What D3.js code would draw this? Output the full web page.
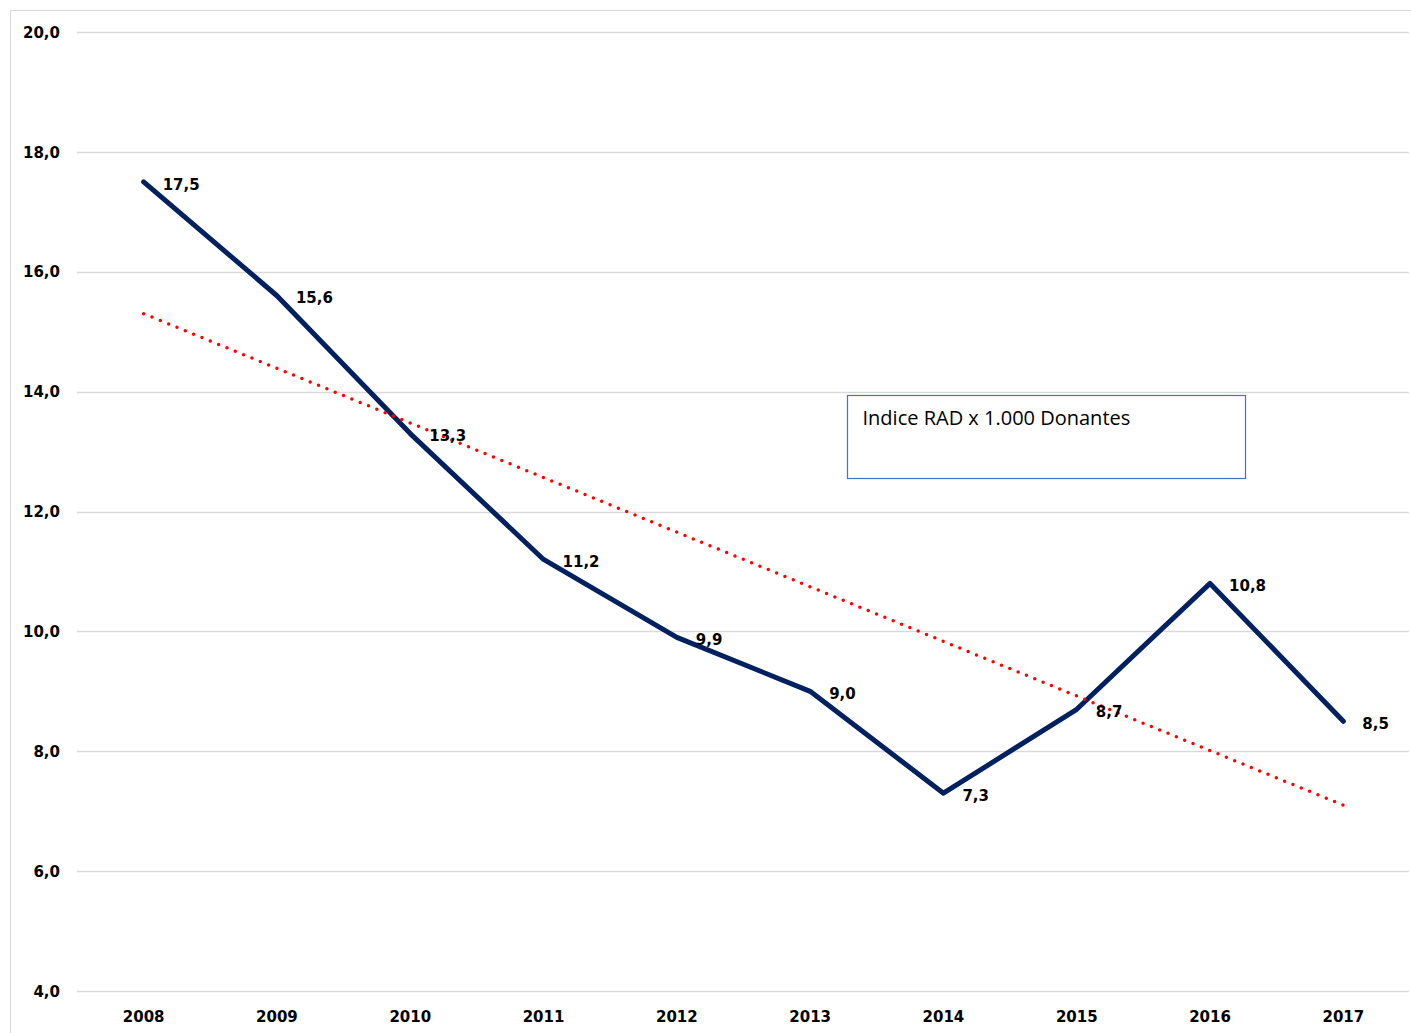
<!DOCTYPE html>
<html lang="es">
<head>
<meta charset="UTF-8">
<script src="https://d3js.org/d3.v7.min.js"></script>
<title>Indice RAD</title>
<style>
  body { margin: 0; background: #fff; }
  text { font-family: "DejaVu Sans", sans-serif; }
</style>
</head>
<body>
<script>
// datos
var years = ["2008","2009","2010","2011","2012","2013","2014","2015","2016","2017"];
var values = [17.5, 15.6, 13.3, 11.2, 9.9, 9.0, 7.3, 8.7, 10.8, 8.5];
var trendYears = ["2008", "2017"];
var trendValues = [15.3, 7.1];   // linea de tendencia
var yTicks = [4, 6, 8, 10, 12, 14, 16, 18, 20];
var legendText = "Indice RAD x 1.000 Donantes";

var width = 1411, height = 1033;
var margin = {left: 77, right: 1, top: 32, bottom: 42};

var svg = d3.select("body").append("svg")
    .attr("width", width).attr("height", height);

// marco del grafico
svg.append("rect")
    .attr("x", 10.5).attr("y", 10.5)
    .attr("width", width + 10).attr("height", height + 10)
    .attr("fill", "none").attr("stroke", "#d9d9d9");

var x = d3.scaleBand()
    .domain(years)
    .range([margin.left, width - margin.right]);

var y = d3.scaleLinear()
    .domain([4, 20])
    .range([height - margin.bottom, margin.top]);

var fmt = function(v) { return d3.format(".1f")(v).replace(".", ","); };
var cx = function(d) { return x(d) + x.bandwidth() / 2; };

// rejilla
svg.append("g").selectAll("line")
    .data(yTicks).enter().append("line")
    .attr("x1", margin.left).attr("x2", width - 2)
    .attr("y1", function(d) { return Math.round(y(d)) + 0.5; })
    .attr("y2", function(d) { return Math.round(y(d)) + 0.5; })
    .attr("stroke", "#d9d9d9").attr("stroke-width", 1.3);

// etiquetas eje y
svg.append("g").selectAll("text")
    .data(yTicks).enter().append("text")
    .attr("x", 60).attr("y", function(d) { return y(d); })
    .attr("dy", "0.38em")
    .attr("text-anchor", "end")
    .style("font-size", "15px").style("font-weight", "bold")
    .text(fmt);

// etiquetas eje x
svg.append("g").selectAll("text")
    .data(years).enter().append("text")
    .attr("x", cx).attr("y", 1016)
    .attr("dy", "0.38em")
    .attr("text-anchor", "middle")
    .style("font-size", "15px").style("font-weight", "bold")
    .text(function(d) { return d; });

// serie principal
var line = d3.line()
    .x(function(d, i) { return cx(years[i]); })
    .y(function(d) { return y(d); });

svg.append("path")
    .datum(values)
    .attr("d", line)
    .attr("fill", "none")
    .attr("stroke", "#002060")
    .attr("stroke-width", 5)
    .attr("stroke-linejoin", "round")
    .attr("stroke-linecap", "round");

// tendencia
var trendLine = d3.line()
    .x(function(d, i) { return cx(trendYears[i]); })
    .y(function(d) { return y(d); });

svg.append("path")
    .datum(trendValues)
    .attr("d", trendLine)
    .attr("fill", "none")
    .attr("stroke", "#ff0000")
    .attr("stroke-width", 3.5)
    .attr("stroke-linecap", "round")
    .attr("stroke-dasharray", "0 9");

// etiquetas de datos
svg.append("g").selectAll("text")
    .data(values).enter().append("text")
    .attr("x", function(d, i) { return cx(years[i]) + 19; })
    .attr("y", function(d) { return y(d) + 2; })
    .attr("dy", "0.38em")
    .style("font-size", "15px").style("font-weight", "bold")
    .text(fmt);

// leyenda
var lg = svg.append("g").attr("transform", "translate(847.5,395.5)");
lg.append("rect")
    .attr("width", 398).attr("height", 83)
    .attr("fill", "#fff").attr("stroke", "#4472c4").attr("stroke-width", 1.2);
lg.append("text")
    .attr("x", 15).attr("y", 29)
    .style("font-family", "'Open Sans', sans-serif")
    .style("font-size", "20px")
    .text(legendText);
</script>
</body>
</html>
